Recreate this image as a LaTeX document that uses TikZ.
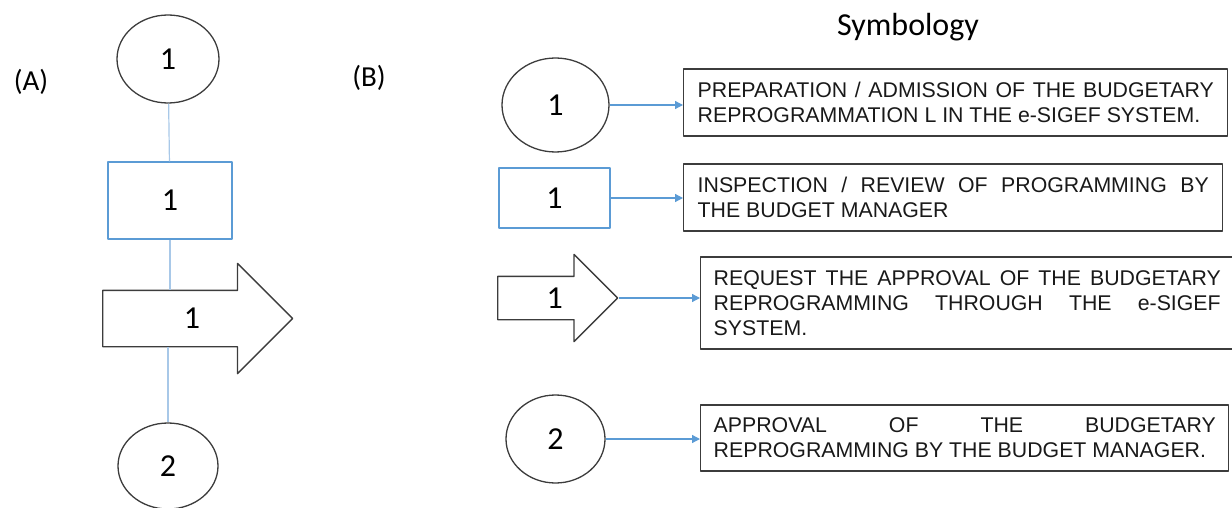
\documentclass[tikz,border=0pt]{standalone}
\usepackage{fontspec}
\setmainfont{Carlito}
\newfontfamily\boxfont{Liberation Sans}
\usetikzlibrary{shapes.geometric,shapes.arrows,arrows.meta}
\definecolor{linkblue}{HTML}{5B9BD5}
\definecolor{paleblue}{HTML}{A8C8E8}
\definecolor{edgegray}{HTML}{3C3C3C}
\begin{document}
\begin{tikzpicture}[x=1pt,y=-1pt,>={Triangle[length=8pt,width=8pt]},line join=round,
	font=\fontsize{32}{36}\selectfont,
	oval/.style={ellipse,draw=edgegray,line width=1.3pt,inner sep=0pt},
	frame/.style={draw=linkblue,line width=1.3pt,inner sep=0pt},
	bigarrow/.style={single arrow,draw=edgegray,line width=1.3pt,inner xsep=0pt,text height=20pt,text depth=0pt,
		single arrow tip angle=90,anchor=tail},
	legend/.style={draw=edgegray,line width=1.4pt,anchor=west,align=justify,inner xsep=14pt,inner ysep=0pt,
		text=black!90,font=\boxfont\fontsize{21.3}{25}\selectfont},
	link/.style={paleblue,line width=1.2pt},
	flow/.style={->,linkblue,line width=1.2pt}]
	\useasboundingbox (0,0) rectangle (1232,508);
	% (A) the flow
	\node[font=\fontsize{29}{32}\selectfont] (labA) at (31,82) {(A)};
	\node[oval,minimum width=102pt,minimum height=88pt] (t1) at (168,59) {1};
	\node[frame,minimum width=124pt,minimum height=77pt] (s1) at (170,200.5) {1};
	\node[bigarrow,inner ysep=17.5pt,single arrow head extend=27pt,minimum height=190pt] (a1) at (102,318.5) {\hspace*{17pt}1};
	\node[oval,minimum width=100pt,minimum height=86pt] (t2) at (168,466) {2};
	\draw[link] (t1) -- (s1);
	\draw[link] (s1.south) -- (s1.south |- a1.north);
	\draw[link] (t2.north |- a1.south) -- (t2.north);
	% (B) the symbology
	\node[font=\fontsize{29}{32}\selectfont] (labB) at (369,78) {(B)};
	\node (title) at (908,27) {Symbology};
	\node[oval,minimum width=107pt,minimum height=94pt] (e1) at (555.5,105) {1};
	\node[frame,minimum width=111pt,minimum height=60pt] (r1) at (554.5,198) {1};
	\node[bigarrow,inner ysep=11pt,single arrow head extend=22pt,minimum height=120pt] (a2) at (497,298) {\hspace*{16pt}1};
	\node[oval,minimum width=99pt,minimum height=88pt] (e2) at (555.5,439) {2};
	\node[legend,text width=516pt,minimum height=67pt] (b1) at (683,102.5)
		{PREPARATION / ADMISSION OF THE BUDGETARY\linebreak REPROGRAMMATION L IN THE e-SIGEF SYSTEM.};
	\node[legend,text width=511pt,minimum height=67pt] (b2) at (683,197.5)
		{INSPECTION / REVIEW OF PROGRAMMING BY\linebreak THE BUDGET MANAGER};
	\node[legend,text width=507pt,inner xsep=13pt,minimum height=92pt] (b3) at (700,303)
		{REQUEST THE APPROVAL OF THE BUDGETARY\linebreak REPROGRAMMING THROUGH THE e-SIGEF\linebreak SYSTEM.};
	\node[legend,text width=502pt,inner xsep=13pt,minimum height=66pt] (b4) at (700,438)
		{APPROVAL OF THE BUDGETARY\linebreak REPROGRAMMING BY THE BUDGET MANAGER.};
	\draw[flow] (e1.east) -- (e1.east -| b1.west);
	\draw[flow] (r1.east) -- (r1.east -| b2.west);
	\draw[flow] (a2.tip) -- (a2.tip -| b3.west);
	\draw[flow] (e2.east) -- (e2.east -| b4.west);
\end{tikzpicture}
\end{document}
